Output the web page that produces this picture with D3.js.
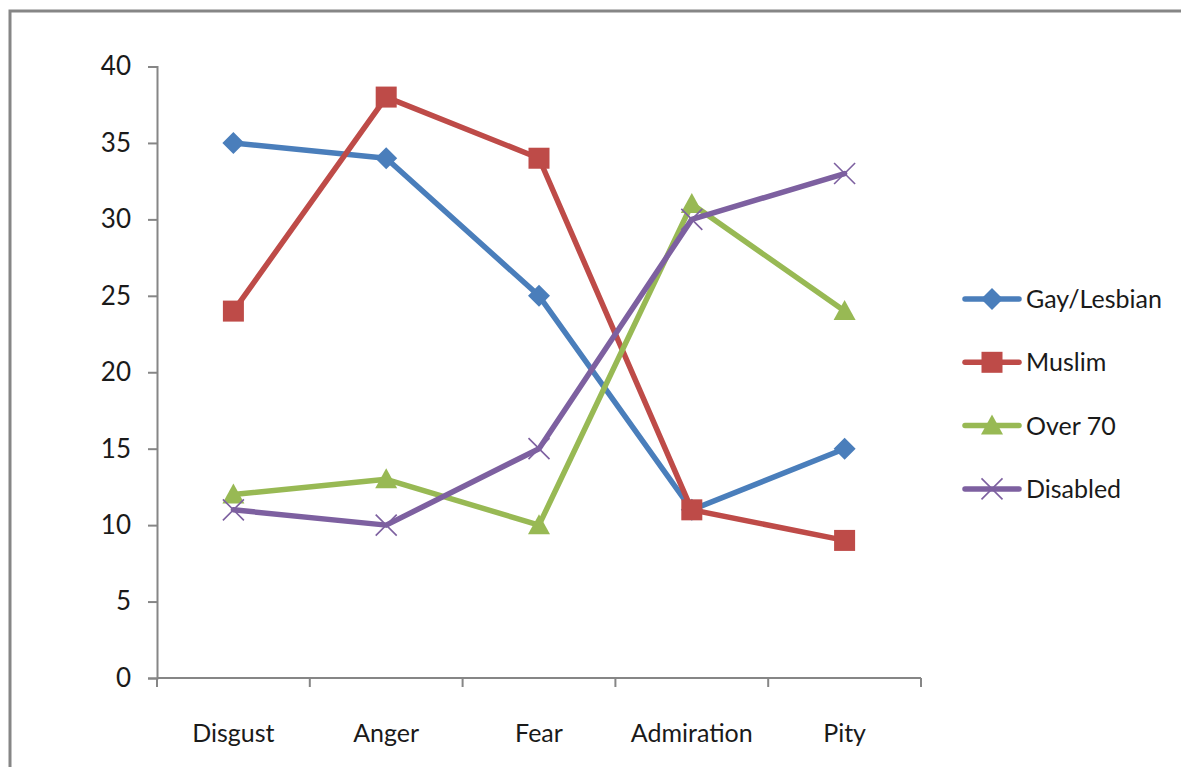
<!DOCTYPE html>
<html>
<head>
<meta charset="utf-8">
<script src="https://cdn.jsdelivr.net/npm/d3@7"></script>
<style>
  html, body { margin: 0; padding: 0; background: #ffffff; overflow: hidden; }
  svg { display: block; }
  text { font-family: Lato, "Liberation Sans", sans-serif; fill: #1a1a1a; }
</style>
</head>
<body>
<svg id="chart" width="1181" height="767"></svg>
<script>
// Emotion categories on the x axis
const categories = ["Disgust", "Anger", "Fear", "Admiration", "Pity"];

// Series values, one per category
const gayLesbian = [35, 34, 25, 11, 15];
const muslim     = [24, 38, 34, 11, 9];
const over70     = [12, 13, 10, 31, 24];
const disabled   = [11, 10, 15, 30, 33];

const seriesNames = ["Gay/Lesbian", "Muslim", "Over 70", "Disabled"];
const yTicks = [0, 5, 10, 15, 20, 25, 30, 35, 40];

const series = [
  { name: seriesNames[0], values: gayLesbian, color: "#4a7ebb", marker: "diamond" },
  { name: seriesNames[1], values: muslim,     color: "#be4b48", marker: "square" },
  { name: seriesNames[2], values: over70,     color: "#98b954", marker: "triangle" },
  { name: seriesNames[3], values: disabled,   color: "#7d60a0", marker: "cross" }
];

const svg = d3.select("#chart");

// outer frame (right and bottom edges fall outside the canvas)
svg.append("rect")
  .attr("x", 10).attr("y", 11)
  .attr("width", 1400).attr("height", 1000)
  .attr("fill", "#ffffff")
  .attr("stroke", "#868686")
  .attr("stroke-width", 3);

const plot = { left: 157, right: 921, top: 66.5, bottom: 678 };

const x = d3.scaleBand().domain(categories).range([plot.left, plot.right]);
const y = d3.scaleLinear().domain([0, 40]).range([plot.bottom, plot.top]);
const cx = c => x(c) + x.bandwidth() / 2;

// y axis
const yAxis = svg.append("g")
  .attr("transform", `translate(${plot.left},0)`)
  .call(d3.axisLeft(y).tickValues(yTicks).tickSize(9).tickPadding(17).tickFormat(d3.format("d")));
yAxis.select(".domain").attr("stroke", "#868686").attr("stroke-width", 2);
yAxis.selectAll(".tick line").attr("stroke", "#868686").attr("stroke-width", 2);
yAxis.selectAll("text").attr("font-size", 26).attr("font-family", "Lato").attr("fill", "#1a1a1a");

// x axis with ticks on band boundaries
const xAxisG = svg.append("g").attr("transform", `translate(0,${plot.bottom})`);
xAxisG.append("line")
  .attr("x1", plot.left).attr("x2", plot.right)
  .attr("stroke", "#868686").attr("stroke-width", 2);
const bounds = categories.map(c => x(c)).concat([plot.right]);
xAxisG.selectAll(".bt").data(bounds).join("line")
  .attr("x1", d => d).attr("x2", d => d)
  .attr("y1", 0).attr("y2", 9)
  .attr("stroke", "#868686").attr("stroke-width", 2);
xAxisG.selectAll(".cat").data(categories).join("text")
  .attr("x", d => cx(d)).attr("y", 64)
  .attr("text-anchor", "middle")
  .attr("font-size", 25)
  .text(d => d);

// marker drawing
function drawMarker(g, type, color, px, py) {
  if (type === "diamond") {
    const r = 11;
    g.append("path")
      .attr("d", `M${px},${py - r}L${px + r},${py}L${px},${py + r}L${px - r},${py}Z`)
      .attr("fill", color);
  } else if (type === "square") {
    g.append("rect").attr("x", px - 10.5).attr("y", py - 10.5).attr("width", 21).attr("height", 21).attr("fill", color);
  } else if (type === "triangle") {
    g.append("path")
      .attr("d", `M${px},${py - 11}L${px + 11},${py + 9}L${px - 11},${py + 9}Z`)
      .attr("fill", color);
  } else {
    const s = 10.5;
    g.append("path")
      .attr("d", `M${px - s},${py - s}L${px + s},${py + s}M${px - s},${py + s}L${px + s},${py - s}`)
      .attr("stroke", color).attr("stroke-width", 1.6).attr("fill", "none");
  }
}

const line = d3.line().x((d, i) => cx(categories[i])).y(d => y(d));

series.forEach(s => {
  const g = svg.append("g");
  g.append("path")
    .attr("d", line(s.values))
    .attr("fill", "none")
    .attr("stroke", s.color)
    .attr("stroke-width", 5.5)
    .attr("stroke-linejoin", "round")
    .attr("stroke-linecap", "round");
  s.values.forEach((v, i) => drawMarker(g, s.marker, s.color, cx(categories[i]), y(v)));
});

// legend
const legend = svg.append("g");
series.forEach((s, i) => {
  const ly = 299 + i * 63.3;
  const g = legend.append("g");
  g.append("line")
    .attr("x1", 965).attr("x2", 1019).attr("y1", ly).attr("y2", ly)
    .attr("stroke", s.color).attr("stroke-width", 5.5).attr("stroke-linecap", "round");
  drawMarker(g, s.marker, s.color, 992, ly);
  g.append("text")
    .attr("x", 1026).attr("y", ly + 9)
    .attr("font-size", 25)
    .text(s.name);
});
</script>
</body>
</html>
